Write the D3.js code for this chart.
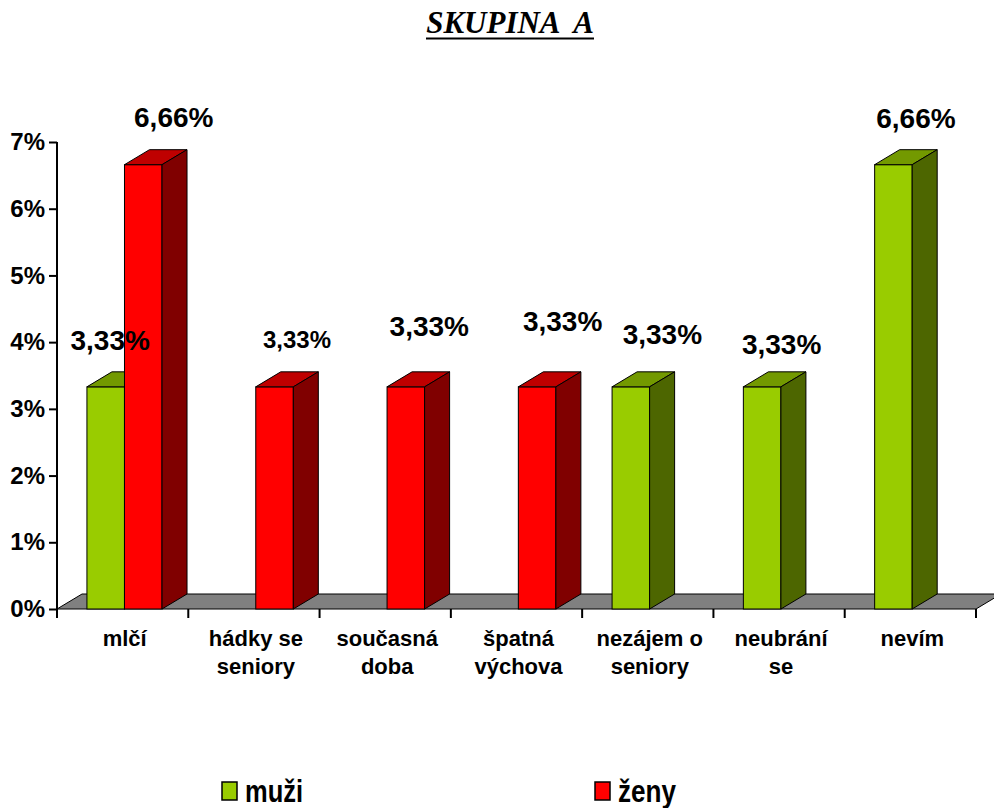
<!DOCTYPE html>
<html>
<head>
<meta charset="utf-8">
<script src="https://cdn.jsdelivr.net/npm/d3@7"></script>
<style>
  body { margin: 0; background: #fff; }
  text { font-family: Arial, "Liberation Sans", sans-serif; font-weight: bold; fill: #000; }
</style>
</head>
<body>
<div id="chart"></div>
<script>
// data
var categories = ["mlčí", "hádky se|seniory", "současná|doba", "špatná|výchova", "nezájem o|seniory", "neubrání|se", "nevím"];
var seriesNames = ["muži", "ženy"];
var muzi = [3.33, 0, 0, 0, 3.33, 3.33, 6.66];
var zeny = [6.66, 3.33, 3.33, 3.33, 0, 0, 0];
var yTicks = [0, 1, 2, 3, 4, 5, 6, 7];

// small manual nudges of the value labels (like excel's dragged labels)
var labelNudgeM = [[-18, 1], [0, 0], [0, 0], [0, 0], [9, -5], [-3, 5], [0, 1]];
var labelNudgeZ = [[8, 0], [0, -1], [1, -13], [3, -18], [0, 0], [0, 0], [0, 0]];

var colors = {
    "muži": {front: "#99cc00", top: "#739900", side: "#4d6600"},
    "ženy": {front: "#ff0000", top: "#bf0000", side: "#800000"}
};

var W = 994, H = 808;
var dx = 25, dy = 15; // depth of the 3d look

var svg = d3.select("#chart").append("svg")
    .attr("width", W)
    .attr("height", H);

svg.append("rect").attr("width", W).attr("height", H).attr("fill", "#fff");

var xScale = d3.scaleBand()
    .domain(categories)
    .range([57, 976])
    .padding(0);
var bw = xScale.bandwidth();

var inner = d3.scaleBand()
    .domain(seriesNames)
    .range([bw * 0.228, bw * 0.228 + 2 * bw * 0.286])
    .padding(0);

var yScale = d3.scaleLinear()
    .domain([0, 7])
    .range([609, 142]);

// title
svg.append("text")
    .attr("x", 510).attr("y", 33)
    .attr("text-anchor", "middle")
    .style("font-family", "'Liberation Serif', 'Times New Roman', serif")
    .style("font-style", "italic")
    .style("font-weight", "bold")
    .style("font-size", "31px")
    .style("white-space", "pre")
    .text("SKUPINA  A");
var tw = 168;
svg.append("line")
    .attr("x1", 510 - tw / 2).attr("x2", 510 + tw / 2)
    .attr("y1", 38.5).attr("y2", 38.5)
    .attr("stroke", "#000").attr("stroke-width", 2);

// floor
var y0 = yScale(0);
svg.append("polygon")
    .attr("points", [[57, y0], [976, y0], [976 + dx, y0 - dy], [57 + dx, y0 - dy]].join(" "))
    .attr("fill", "#808080")
    .attr("stroke", "#000")
    .attr("stroke-width", 1);

// y axis
var yAxis = d3.axisLeft(yScale)
    .tickValues(yTicks)
    .tickSize(8)
    .tickFormat(function(d) { return d + "%"; });
var ga = svg.append("g").attr("transform", "translate(57,0)").call(yAxis);
ga.select(".domain").attr("stroke-width", 2).attr("d", "M0," + yScale(7) + "V" + yScale(0));
ga.selectAll(".tick line").attr("stroke-width", 2);
ga.selectAll(".tick text")
    .attr("x", -12)
    .style("font-size", "24px")
    .style("font-family", "Arial, 'Liberation Sans', sans-serif")
    .style("font-weight", "bold");

// category ticks under the floor
var bounds = categories.map(function(c) { return xScale(c); }).concat([xScale.range()[1]]);
svg.selectAll(".ctick").data(bounds).enter().append("line")
    .attr("x1", function(d) { return d; }).attr("x2", function(d) { return d; })
    .attr("y1", y0).attr("y2", y0 + 9)
    .attr("stroke", "#000").attr("stroke-width", 2);

// category labels
var cl = svg.selectAll(".clabel").data(categories).enter().append("text")
    .attr("text-anchor", "middle")
    .style("font-size", "22px");
cl.each(function(c) {
    var parts = c.split("|");
    var t = d3.select(this);
    parts.forEach(function(p, i) {
        t.append("tspan")
            .attr("x", xScale(c) + bw / 2 + 2)
            .attr("y", 646 + i * 28)
            .text(p);
    });
});

// bars
var bars = [];
categories.forEach(function(c, i) {
    bars.push({cat: c, s: "muži", v: muzi[i], i: i, nudge: labelNudgeM[i]});
    bars.push({cat: c, s: "ženy", v: zeny[i], i: i, nudge: labelNudgeZ[i]});
});
bars = bars.filter(function(b) { return b.v > 0; });

var bwid = inner.bandwidth();
bars.forEach(function(b) {
    var x = xScale(b.cat) + inner(b.s);
    var yt = yScale(b.v);
    var g = svg.append("g");
    g.append("rect")
        .attr("x", x).attr("y", yt)
        .attr("width", bwid).attr("height", y0 - yt)
        .attr("fill", colors[b.s].front)
        .attr("stroke", "#000").attr("stroke-width", 1);
    g.append("polygon")
        .attr("points", [[x, yt], [x + bwid, yt], [x + bwid + dx, yt - dy], [x + dx, yt - dy]].join(" "))
        .attr("fill", colors[b.s].top)
        .attr("stroke", "#000").attr("stroke-width", 1).attr("stroke-linejoin", "round");
    g.append("polygon")
        .attr("points", [[x + bwid, yt], [x + bwid + dx, yt - dy], [x + bwid + dx, y0 - dy], [x + bwid, y0]].join(" "))
        .attr("fill", colors[b.s].side)
        .attr("stroke", "#000").attr("stroke-width", 1).attr("stroke-linejoin", "round");
});

// value labels
bars.forEach(function(b) {
    var x = xScale(b.cat) + inner(b.s) + bwid / 2 + dx / 2 + 10;
    var y = yScale(b.v) - dy - 23;
    svg.append("text")
        .attr("x", x + b.nudge[0])
        .attr("y", y + b.nudge[1])
        .attr("text-anchor", "middle")
        .style("font-size", (b.s === "ženy" && b.i === 1) ? "24px" : "28px")
        .text(String(b.v.toFixed(2)).replace(".", ",") + "%");
});

// legend
var leg = [{name: "muži", x: 222}, {name: "ženy", x: 595}];
leg.forEach(function(l) {
    svg.append("rect")
        .attr("x", l.x).attr("y", 782)
        .attr("width", 15).attr("height", 18)
        .attr("fill", colors[l.name].front)
        .attr("stroke", "#000").attr("stroke-width", 1.5);
    svg.append("text")
        .attr("x", l.x + 23).attr("y", 802)
        .style("font-size", "32px")
        .attr("textLength", 58)
        .attr("lengthAdjust", "spacingAndGlyphs")
        .text(l.name);
});
</script>
</body>
</html>
